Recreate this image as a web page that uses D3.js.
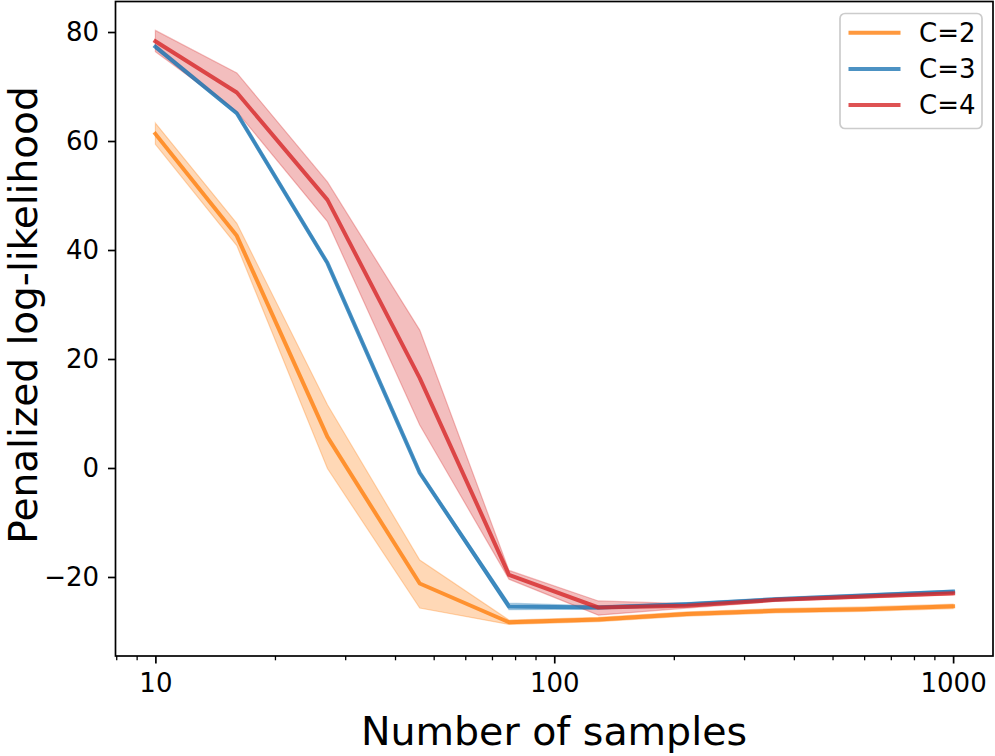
<!DOCTYPE html>
<html>
<head>
<meta charset="utf-8">
<script src="https://cdn.jsdelivr.net/npm/d3@7"></script>
<style>
  html, body { margin: 0; padding: 0; background: #fff; }
  svg { display: block; font-family: "DejaVu Sans", sans-serif; }
</style>
</head>
<body>
<svg id="chart" width="995" height="756"></svg>
<script>
// ---- data ----
const samples = [10, 16, 27, 46, 77, 129, 215, 359, 599, 1000];

const c2Mean = [61.3, 42.6, 5.7, -21.2, -28.3, -27.8, -26.8, -26.2, -25.9, -25.4];
const c2Low  = [59.4, 40.8, -0.1, -25.7, -28.7, -28.2, -27.2, -26.6, -26.3, -25.8];
const c2High = [63.3, 44.9, 11.6, -16.9, -27.9, -27.4, -26.4, -25.8, -25.5, -25.0];

const c3Mean = [77.3, 65.1, 37.6, -0.9, -25.4, -25.6, -25.0, -24.1, -23.4, -22.7];
const c3Low  = [76.9, 64.8, 37.3, -1.2, -26.0, -25.9, -25.3, -24.4, -23.7, -23.0];
const c3High = [77.7, 65.4, 37.9, -0.6, -24.8, -25.3, -24.7, -23.8, -23.1, -22.4];

const c4Mean = [78.3, 68.9, 49.2, 16.5, -19.6, -25.6, -25.3, -24.2, -23.6, -23.0];
const c4Low  = [76.4, 65.4, 45.2, 7.9, -20.4, -27.0, -25.7, -24.5, -23.9, -23.3];
const c4High = [80.3, 72.5, 52.5, 25.3, -18.8, -24.4, -24.9, -23.9, -23.3, -22.7];

const seriesNames = ["C=2", "C=3", "C=4"];
const seriesColors = ["#ff7f0e", "#1f77b4", "#d62728"];

const yTicks = [-20, 0, 20, 40, 60, 80];
const xTicks = [10, 100, 1000];
const xTickLabels = ["10", "100", "1000"];

const xLabel = "Number of samples";
const yLabel = "Penalized log-likelihood";

// ---- layout ----
const svg = d3.select("#chart");
const plot = { left: 115.5, right: 993, top: 1.5, bottom: 656 };

const x = d3.scaleLog()
  .domain([Math.pow(10, 0.9), Math.pow(10, 3.1)])
  .range([plot.left, plot.right]);
const y = d3.scaleLinear()
  .domain([-34.5, 85.6])
  .range([plot.bottom, plot.top]);

const series = [
  { name: seriesNames[0], color: seriesColors[0], mean: c2Mean, lo: c2Low, hi: c2High },
  { name: seriesNames[1], color: seriesColors[1], mean: c3Mean, lo: c3Low, hi: c3High },
  { name: seriesNames[2], color: seriesColors[2], mean: c4Mean, lo: c4Low, hi: c4High }
];

const g = svg.append("g");

svg.append("defs").append("clipPath").attr("id", "clip")
  .append("rect")
  .attr("x", plot.left).attr("y", plot.top)
  .attr("width", plot.right - plot.left).attr("height", plot.bottom - plot.top);

const area = d3.area()
  .x((d, i) => x(samples[i]))
  .y0(d => y(d[0]))
  .y1(d => y(d[1]));
const line = d3.line()
  .x((d, i) => x(samples[i]))
  .y(d => y(d));

const dataG = g.append("g").attr("clip-path", "url(#clip)");

series.forEach(s => {
  const pairs = s.lo.map((v, i) => [v, s.hi[i]]);
  dataG.append("path")
    .attr("d", area(pairs))
    .attr("fill", s.color)
    .attr("fill-opacity", 0.3)
    .attr("stroke", s.color)
    .attr("stroke-opacity", 0.3)
    .attr("stroke-width", 1.2);
});
series.forEach(s => {
  dataG.append("path")
    .attr("d", line(s.mean))
    .attr("fill", "none")
    .attr("stroke", s.color)
    .attr("stroke-opacity", 0.8)
    .attr("stroke-width", 4)
    .attr("stroke-linejoin", "round")
    .attr("stroke-linecap", "square");
});

// ---- axes ----
const tickFont = 26;

const yAxis = d3.axisLeft(y)
  .tickValues(yTicks)
  .tickSize(7.5)
  .tickPadding(9)
  .tickFormat(d3.format("d"));
const yG = g.append("g").attr("transform", `translate(${plot.left},0)`).call(yAxis);
yG.select(".domain").remove();
yG.selectAll(".tick line").attr("stroke", "#000").attr("stroke-width", 1.7);
yG.selectAll(".tick text")
  .attr("font-size", tickFont)
  .attr("font-family", "DejaVu Sans")
  .attr("fill", "#000");

const xAxis = d3.axisBottom(x)
  .tickValues(xTicks)
  .tickSize(7.5)
  .tickPadding(10)
  .tickFormat((d, i) => xTickLabels[i]);
const xG = g.append("g").attr("transform", `translate(0,${plot.bottom})`).call(xAxis);
xG.select(".domain").remove();
xG.selectAll(".tick line").attr("stroke", "#000").attr("stroke-width", 1.7);
xG.selectAll(".tick text")
  .attr("font-size", tickFont)
  .attr("font-family", "DejaVu Sans")
  .attr("fill", "#000");

// x minor ticks
const [d0, d1] = x.domain();
const minor = [];
for (let e = 0; e <= 3; e++) {
  for (let m = 2; m <= 9; m++) {
    const v = m * Math.pow(10, e);
    if (v >= d0 && v <= d1) minor.push(v);
  }
}
g.append("g").selectAll("line").data(minor).join("line")
  .attr("x1", d => x(d)).attr("x2", d => x(d))
  .attr("y1", plot.bottom).attr("y2", plot.bottom + 4.3)
  .attr("stroke", "#000").attr("stroke-width", 1.3);

// frame
g.append("rect")
  .attr("x", plot.left).attr("y", plot.top)
  .attr("width", plot.right - plot.left).attr("height", plot.bottom - plot.top)
  .attr("fill", "none").attr("stroke", "#000").attr("stroke-width", 1.7);

// axis labels
svg.append("text")
  .attr("x", 554)
  .attr("y", 745)
  .attr("text-anchor", "middle")
  .attr("font-size", 39.5)
  .attr("fill", "#000")
  .text(xLabel);

svg.append("text")
  .attr("transform", `translate(37,315) rotate(-90)`)
  .attr("text-anchor", "middle")
  .attr("font-size", 39)
  .attr("fill", "#000")
  .text(yLabel);

// ---- legend ----
const lg = svg.append("g");
lg.append("rect")
  .attr("x", 840).attr("y", 13.5)
  .attr("width", 142).attr("height", 115)
  .attr("rx", 5).attr("ry", 5)
  .attr("fill", "#fff").attr("fill-opacity", 0.8)
  .attr("stroke", "#cccccc").attr("stroke-width", 1.7);
series.forEach((s, i) => {
  const yy = 32.7 + i * 36.2;
  lg.append("line")
    .attr("x1", 848.5).attr("x2", 900.5)
    .attr("y1", yy).attr("y2", yy)
    .attr("stroke", s.color).attr("stroke-opacity", 0.8)
    .attr("stroke-width", 4);
  lg.append("text")
    .attr("x", 919).attr("y", yy)
    .attr("dy", "0.36em")
    .attr("font-size", tickFont)
    .attr("fill", "#000")
    .text(s.name);
});
</script>
</body>
</html>
